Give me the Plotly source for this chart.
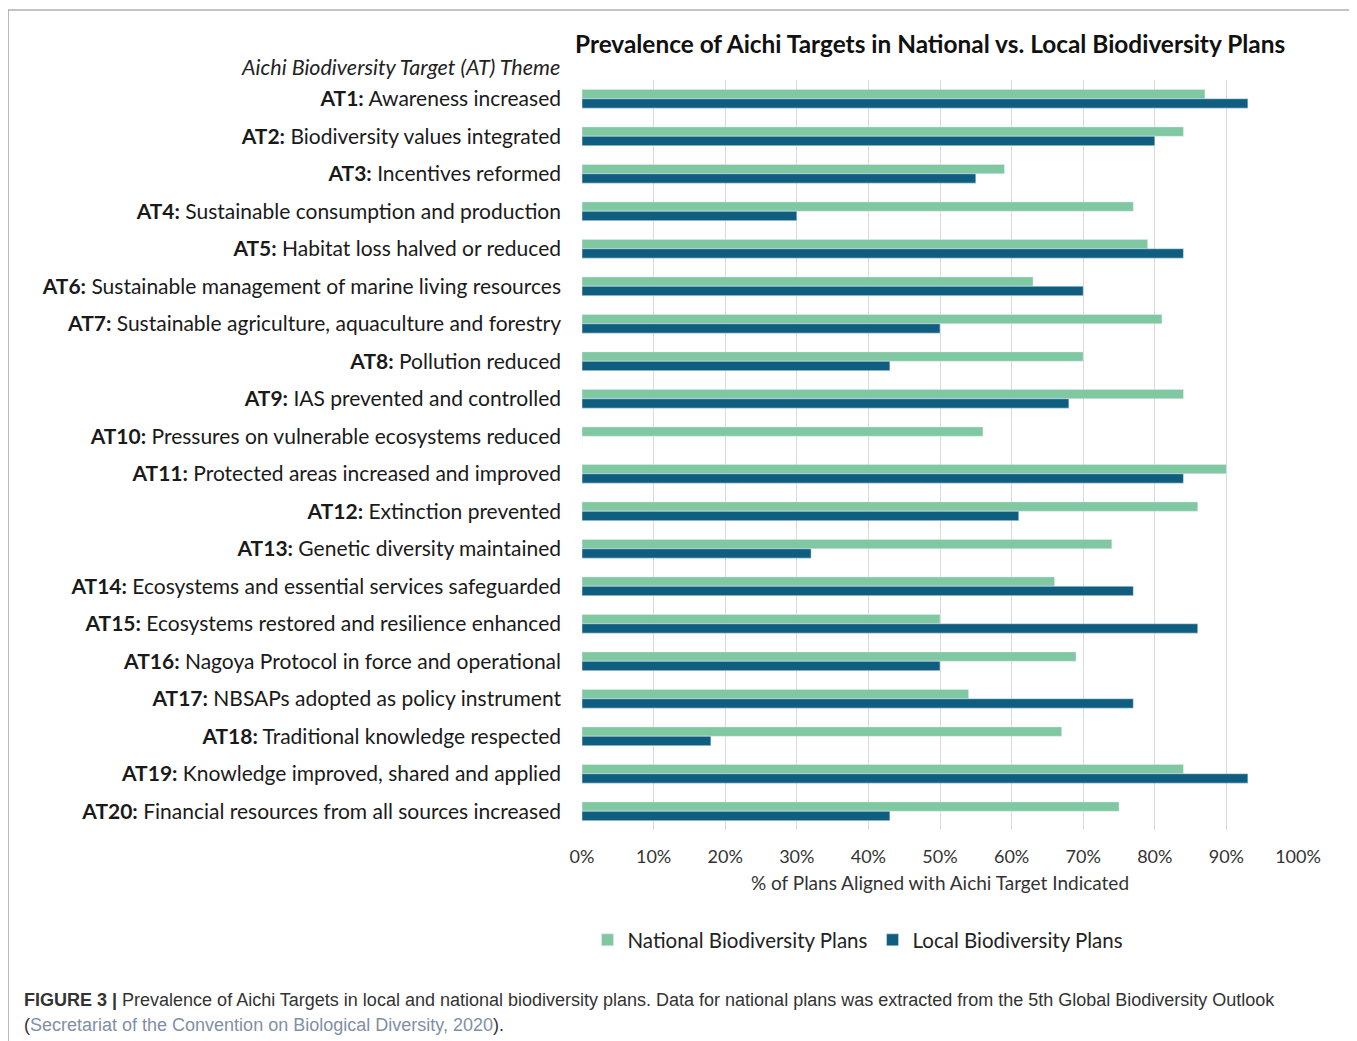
import plotly.graph_objects as go

codes = ["AT1", "AT2", "AT3", "AT4", "AT5", "AT6", "AT7", "AT8", "AT9", "AT10",
         "AT11", "AT12", "AT13", "AT14", "AT15", "AT16", "AT17", "AT18", "AT19", "AT20"]
themes = ["Awareness increased", "Biodiversity values integrated", "Incentives reformed",
          "Sustainable consumption and production", "Habitat loss halved or reduced",
          "Sustainable management of marine living resources",
          "Sustainable agriculture, aquaculture and forestry", "Pollution reduced",
          "IAS prevented and controlled", "Pressures on vulnerable ecosystems reduced",
          "Protected areas increased and improved", "Extinction prevented",
          "Genetic diversity maintained", "Ecosystems and essential services safeguarded",
          "Ecosystems restored and resilience enhanced", "Nagoya Protocol in force and operational",
          "NBSAPs adopted as policy instrument", "Traditional knowledge respected",
          "Knowledge improved, shared and applied", "Financial resources from all sources increased"]
national = [87, 84, 59, 77, 79, 63, 81, 70, 84, 56, 90, 86, 74, 66, 50, 69, 54, 67, 84, 75]
local = [93, 80, 55, 30, 84, 70, 50, 43, 68, 0, 84, 61, 32, 77, 86, 50, 77, 18, 93, 43]
x_ticks = [0, 10, 20, 30, 40, 50, 60, 70, 80, 90, 100]
x_tick_labels = [f"{v}%" for v in x_ticks]

labels = [f"<b>{c}:</b> {t}" for c, t in zip(codes, themes)]

GREEN = "#80C8A1"
DARK = "#0F5E80"
FONT = "Lato"

fig = go.Figure()
fig.add_trace(go.Bar(y=labels, x=national, orientation="h", name="National Biodiversity Plans",
                     marker=dict(color=GREEN)))
fig.add_trace(go.Bar(y=labels, x=local, orientation="h", name="Local Biodiversity Plans",
                     marker=dict(color=DARK)))

OFF = 8  # page body margin
W, H = 1357 - OFF, 1041 - OFF
L, R, T, B = 582 - OFF, 1298 - OFF, 80 - OFF, 830 - OFF

def px(x):
    return (x - OFF - L) / (R - L)

def py(y):
    return (B - (y - OFF)) / (B - T)

fig.update_layout(
    width=W, height=H,
    margin=dict(l=L, r=W - R, t=T, b=H - B, autoexpand=False),
    paper_bgcolor="white", plot_bgcolor="white",
    barmode="group", bargap=0.5, bargroupgap=0,
    font=dict(family=FONT, color="#222222"),
    showlegend=True,
    legend=dict(orientation="h", x=px(858), y=py(940), xanchor="center", yanchor="middle",
                font=dict(size=20.5, color="#222222"), itemwidth=30, traceorder="normal"),
    xaxis=dict(range=[0, 100], tickvals=x_ticks, ticktext=x_tick_labels,
               showgrid=True, gridcolor="#D9D9D9", gridwidth=1, zeroline=False,
               showline=False, ticks="", tickfont=dict(size=18, color="#333333"),
               ticklabelstandoff=14,
               title=dict(text="% of Plans Aligned with Aichi Target Indicated",
                          font=dict(size=19, color="#333333"), standoff=10)),
    yaxis=dict(autorange="reversed", showgrid=False, showline=False, ticks="",
               tickfont=dict(size=21, color="#1a1a1a"), ticklabelstandoff=20),
)

fig.add_annotation(text="<b>Prevalence of Aichi Targets in National vs. Local Biodiversity Plans</b>",
                   xref="paper", yref="paper", x=px(930), y=py(43), xanchor="center", yanchor="middle",
                   showarrow=False, font=dict(size=24.4, color="#111111", family=FONT))
fig.add_annotation(text="<i>Aichi Biodiversity Target (AT) Theme</i>",
                   xref="paper", yref="paper", x=px(562), y=py(67), xanchor="right", yanchor="middle",
                   showarrow=False, font=dict(size=21.5, color="#222222", family=FONT))
fig.add_annotation(text="<b>FIGURE 3 |</b> Prevalence of Aichi Targets in local and national biodiversity plans. "
                        "Data for national plans was extracted from the 5th Global Biodiversity Outlook",
                   xref="paper", yref="paper", x=px(22), y=py(1000), xanchor="left", yanchor="middle",
                   showarrow=False, font=dict(size=18, color="#333333", family="Liberation Sans"))
fig.add_annotation(text="(<span style='color:#7f8fa6'>Secretariat of the Convention on Biological Diversity, 2020</span>).",
                   xref="paper", yref="paper", x=px(22), y=py(1025), xanchor="left", yanchor="middle",
                   showarrow=False, font=dict(size=18, color="#333333", family="Liberation Sans"))

fig.add_shape(type="rect", xref="paper", yref="paper", x0=px(8), x1=px(1355), y0=py(1060), y1=py(10),
              line=dict(color="#8a8a8a", width=1.2), fillcolor="rgba(0,0,0,0)", layer="below")

fig.write_html("out.html")
